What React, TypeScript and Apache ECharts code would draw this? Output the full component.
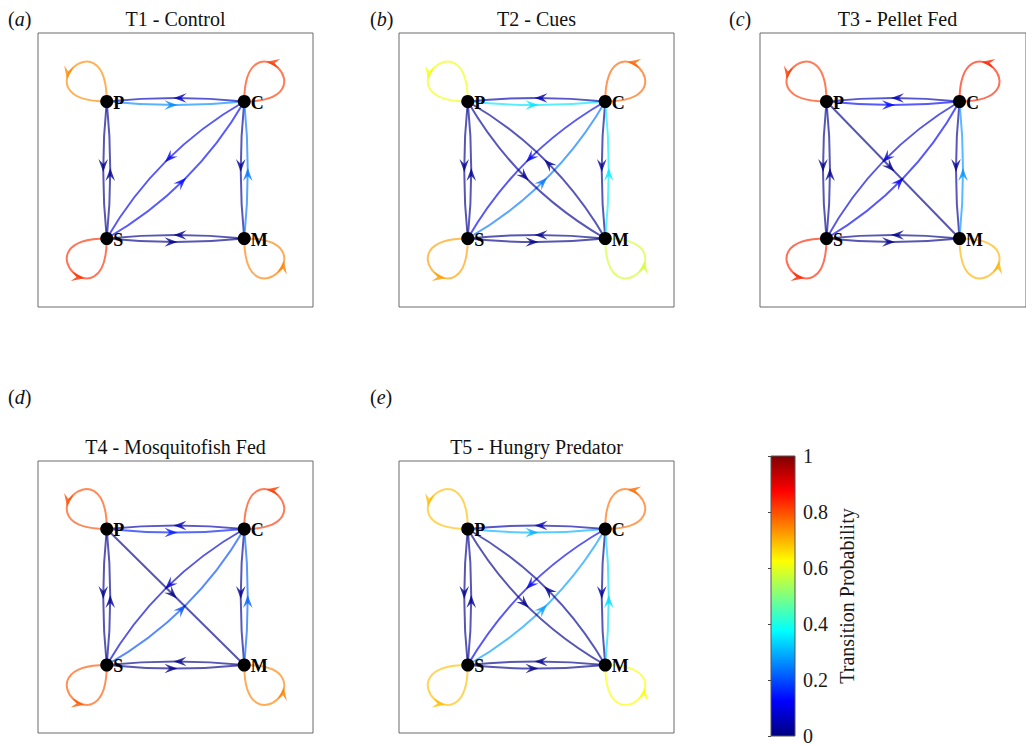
import React, { useEffect, useRef } from 'react';
import * as echarts from 'echarts';

// ---------------- data ----------------
const NODE_NAMES = ['P', 'C', 'S', 'M'];
const NODE_X = [0, 1, 0, 1];
const NODE_Y = [1, 1, 0, 0];

const PANEL_TITLES = ['T1 - Control', 'T2 - Cues', 'T3 - Pellet Fed', 'T4 - Mosquitofish Fed', 'T5 - Hungry Predator'];
const PANEL_TAGS = ['a', 'b', 'c', 'd', 'e'];

// [from, to, transition probability]
const T1_CONTROL: [string, string, number][] = [
  ['P', 'P', 0.74], ['C', 'C', 0.82], ['S', 'S', 0.83], ['M', 'M', 0.75],
  ['P', 'C', 0.26], ['C', 'P', 0.06], ['P', 'S', 0.01], ['S', 'P', 0.02],
  ['C', 'M', 0.02], ['M', 'C', 0.24], ['S', 'M', 0.01], ['M', 'S', 0.01],
  ['C', 'S', 0.11], ['S', 'C', 0.13],
];
const T2_CUES: [string, string, number][] = [
  ['P', 'P', 0.61], ['C', 'C', 0.78], ['S', 'S', 0.72], ['M', 'M', 0.58],
  ['P', 'C', 0.35], ['C', 'P', 0.04], ['P', 'S', 0.01], ['S', 'P', 0.02],
  ['C', 'M', 0.02], ['M', 'C', 0.36], ['S', 'M', 0.01], ['M', 'S', 0.01],
  ['C', 'S', 0.11], ['S', 'C', 0.24], ['P', 'M', 0.02], ['M', 'P', 0.02],
];
const T3_PELLET: [string, string, number][] = [
  ['P', 'P', 0.82], ['C', 'C', 0.84], ['S', 'S', 0.84], ['M', 'M', 0.70],
  ['P', 'C', 0.13], ['C', 'P', 0.05], ['P', 'S', 0.01], ['S', 'P', 0.02],
  ['C', 'M', 0.02], ['M', 'C', 0.27], ['S', 'M', 0.01], ['M', 'S', 0.01],
  ['C', 'S', 0.08], ['S', 'C', 0.12], ['P', 'M', 0.01],
];
const T4_MOSQUITOFISH: [string, string, number][] = [
  ['P', 'P', 0.80], ['C', 'C', 0.82], ['S', 'S', 0.79], ['M', 'M', 0.75],
  ['P', 'C', 0.15], ['C', 'P', 0.05], ['P', 'S', 0.01], ['S', 'P', 0.02],
  ['C', 'M', 0.02], ['M', 'C', 0.22], ['S', 'M', 0.01], ['M', 'S', 0.01],
  ['C', 'S', 0.07], ['S', 'C', 0.20], ['P', 'M', 0.01],
];
const T5_HUNGRY: [string, string, number][] = [
  ['P', 'P', 0.69], ['C', 'C', 0.77], ['S', 'S', 0.69], ['M', 'M', 0.62],
  ['P', 'C', 0.30], ['C', 'P', 0.04], ['P', 'S', 0.01], ['S', 'P', 0.02],
  ['C', 'M', 0.02], ['M', 'C', 0.34], ['S', 'M', 0.01], ['M', 'S', 0.01],
  ['C', 'S', 0.11], ['S', 'C', 0.28], ['P', 'M', 0.01], ['M', 'P', 0.02],
];
const PANEL_EDGES = [T1_CONTROL, T2_CUES, T3_PELLET, T4_MOSQUITOFISH, T5_HUNGRY];

// jet colormap, evenly spaced stops 0..1
const JET = ['#000080', '#0000ff', '#0080ff', '#00ffff', '#80ff80', '#ffff00', '#ff8000', '#ff0000', '#800000'];
const COLORBAR_MIN = 0;
const COLORBAR_MAX = 1;
const COLORBAR_STEP = 0.2;

// ---------------- layout ----------------
const FONT = "'Liberation Serif', 'Times New Roman', Times, serif";
const GRID_POS = [
  [38, 33, 275, 274],
  [399, 33, 275, 274],
  [760, 33, 275, 274],
  [38, 461, 275, 272],
  [399, 461, 275, 272],
];
const TAG_X = [8, 370, 729, 8, 370];
const TAG_Y = [19, 19, 19, 397, 397];
const EDGE_ALPHA = 0.66;
const LINE_W = 2;

function arrowHead(tip: number[], dir: number[], color: any) {
  const len = Math.hypot(dir[0], dir[1]) || 1;
  const ux = dir[0] / len, uy = dir[1] / len;
  const wx = -uy, wy = ux;
  const L = 13, W = 4.8, N = 8;
  return {
    type: 'polygon',
    shape: {
      points: [
        [tip[0], tip[1]],
        [tip[0] - L * ux + W * wx, tip[1] - L * uy + W * wy],
        [tip[0] - N * ux, tip[1] - N * uy],
        [tip[0] - L * ux - W * wx, tip[1] - L * uy - W * wy],
      ],
    },
    style: { fill: color, stroke: null, opacity: 0.8 },
  };
}

function cubicPt(p0: number[], p1: number[], p2: number[], p3: number[], t: number) {
  const u = 1 - t;
  return [0, 1].map(k => u * u * u * p0[k] + 3 * u * u * t * p1[k] + 3 * u * t * t * p2[k] + t * t * t * p3[k]);
}
function cubicD(p0: number[], p1: number[], p2: number[], p3: number[], t: number) {
  const u = 1 - t;
  return [0, 1].map(k => 3 * u * u * (p1[k] - p0[k]) + 6 * u * t * (p2[k] - p1[k]) + 3 * t * t * (p3[k] - p2[k]));
}

function makeRenderer(edges: number[][]) {
  return (params: any, api: any) => {
    const s = api.value(0) as number;
    const t = api.value(1) as number;
    const color = api.visual('color');
    const a = api.coord([NODE_X[s], NODE_Y[s]]);
    const lineStyle = { stroke: color, lineWidth: LINE_W, fill: null, opacity: EDGE_ALPHA };
    if (s === t) {
      const ox = NODE_X[s] === 0 ? -1 : 1;
      const oy = NODE_Y[s] === 1 ? -1 : 1;
      const vertFirst = ox * oy > 0;
      const d1 = vertFirst ? [0, oy] : [ox, 0];
      const d2 = vertFirst ? [ox, 0] : [0, oy];
      const K = 90;
      const c1 = [a[0] + K * d1[0], a[1] + K * d1[1]];
      const c2 = [a[0] + K * d2[0], a[1] + K * d2[1]];
      const tt = 0.64;
      const pt = cubicPt(a, c1, c2, a, tt);
      const dv = cubicD(a, c1, c2, a, tt);
      return {
        type: 'group',
        children: [
          {
            type: 'bezierCurve',
            shape: { x1: a[0], y1: a[1], x2: a[0], y2: a[1], cpx1: c1[0], cpy1: c1[1], cpx2: c2[0], cpy2: c2[1] },
            style: lineStyle,
          },
          arrowHead(pt, dv, color),
        ],
      };
    }
    const b = api.coord([NODE_X[t], NODE_Y[t]]);
    const dx = b[0] - a[0], dy = b[1] - a[1];
    const len = Math.hypot(dx, dy) || 1;
    const ux = dx / len, uy = dy / len;
    const nx = -uy, ny = ux;
    const mutual = edges.some(e => e[0] === t && e[1] === s);
    const diagonal = NODE_X[s] !== NODE_X[t] && NODE_Y[s] !== NODE_Y[t];
    const off = mutual ? (diagonal ? 13 : 3.5) : 0;
    const midX = (a[0] + b[0]) / 2, midY = (a[1] + b[1]) / 2;
    const cx = midX + nx * 2 * off, cy = midY + ny * 2 * off;
    return {
      type: 'group',
      children: [
        {
          type: 'bezierCurve',
          shape: { x1: a[0], y1: a[1], x2: b[0], y2: b[1], cpx1: cx, cpy1: cy },
          style: lineStyle,
        },
        arrowHead([midX + nx * off + ux * 2, midY + ny * off + uy * 2], [ux, uy], color),
      ],
    };
  };
}

export default function App() {
  const ref = useRef<HTMLDivElement>(null);
  useEffect(() => {
    if (!ref.current) return;
    const chart = echarts.init(ref.current, undefined, { renderer: 'svg' });

    const grids: any[] = GRID_POS.map(g => ({
      left: g[0], top: g[1], width: g[2], height: g[3],
      show: true, borderColor: '#6b6b6b', borderWidth: 1, backgroundColor: 'transparent',
    }));
    grids.push({ left: 771, top: 456, width: 24, height: 282, show: false });

    const xAxes: any[] = GRID_POS.map((_, i) => ({ gridIndex: i, type: 'value', min: -0.5, max: 1.5, show: false }));
    xAxes.push({ gridIndex: 5, type: 'value', min: 0, max: 1, show: false });
    const yAxes: any[] = GRID_POS.map((_, i) => ({ gridIndex: i, type: 'value', min: -0.5, max: 1.5, show: false }));
    yAxes.push({
      gridIndex: 5, type: 'value', min: COLORBAR_MIN, max: COLORBAR_MAX, interval: COLORBAR_STEP, position: 'right',
      axisLine: { show: false },
      axisTick: { show: true, inside: true, length: 3, lineStyle: { color: '#444', width: 1 } },
      splitLine: { show: false },
      axisLabel: { fontSize: 20, color: '#1a1a1a', fontFamily: FONT, margin: 8 },
      name: 'Transition Probability', nameLocation: 'middle', nameGap: 42, nameRotate: 90,
      nameTextStyle: { fontSize: 20, color: '#1a1a1a', fontFamily: FONT },
    });

    const series: any[] = [];
    const edgeSeriesIdx: number[] = [];
    PANEL_EDGES.forEach((edges, i) => {
      const data = edges.map(e => [NODE_NAMES.indexOf(e[0]), NODE_NAMES.indexOf(e[1]), e[2]]);
      edgeSeriesIdx.push(series.length);
      series.push({
        type: 'custom', xAxisIndex: i, yAxisIndex: i, coordinateSystem: 'cartesian2d',
        data, renderItem: makeRenderer(data), clip: false, silent: true, z: 2,
      });
      series.push({
        type: 'scatter', xAxisIndex: i, yAxisIndex: i,
        data: NODE_NAMES.map((_, k) => [NODE_X[k], NODE_Y[k]]),
        symbolSize: 13, itemStyle: { color: '#000', opacity: 1 }, silent: true, z: 5,
        label: {
          show: true, position: 'right', distance: 0, offset: [0, 1],
          formatter: (p: any) => NODE_NAMES[p.dataIndex],
          fontWeight: 'bold', fontSize: 18, fontFamily: FONT, color: '#000',
        },
      });
    });
    series.push({
      type: 'custom', xAxisIndex: 5, yAxisIndex: 5, coordinateSystem: 'cartesian2d', silent: true, z: 2,
      data: [[COLORBAR_MIN, COLORBAR_MIN]],
      renderItem: (params: any, api: any) => {
        const p0 = api.coord([0, COLORBAR_MIN]);
        const p1 = api.coord([1, COLORBAR_MAX]);
        return {
          type: 'rect',
          shape: { x: p0[0], y: p1[1], width: p1[0] - p0[0], height: p0[1] - p1[1] },
          style: {
            fill: new echarts.graphic.LinearGradient(0, 1, 0, 0, JET.map((c, k) => ({ offset: k / (JET.length - 1), color: c }))),
            stroke: '#555', lineWidth: 1,
          },
        };
      },
    });

    const graphic: any[] = [];
    PANEL_TITLES.forEach((title, i) => {
      const g = GRID_POS[i];
      graphic.push({
        type: 'text', x: g[0] + g[2] / 2, y: g[1] - 14, silent: true,
        style: { text: title, fill: '#111', fontSize: 20, fontFamily: FONT, align: 'center', verticalAlign: 'middle' },
      });
      graphic.push({
        type: 'text', x: TAG_X[i], y: TAG_Y[i], silent: true,
        style: {
          text: `{n|(}{i|${PANEL_TAGS[i]}}{n|)}`,
          fill: '#111', align: 'left', verticalAlign: 'middle',
          rich: {
            n: { fontSize: 20, fontFamily: FONT, fill: '#111' },
            i: { fontSize: 20, fontFamily: FONT, fontStyle: 'italic', fill: '#111' },
          },
        },
      });
    });

    chart.setOption({
      animation: false,
      backgroundColor: '#ffffff',
      grid: grids,
      xAxis: xAxes,
      yAxis: yAxes,
      visualMap: {
        type: 'continuous', show: false, min: COLORBAR_MIN, max: COLORBAR_MAX, dimension: 2,
        seriesIndex: edgeSeriesIdx, inRange: { color: JET },
      },
      series,
      graphic,
    });
    return () => chart.dispose();
  }, []);
  return <div ref={ref} style={{ position: 'absolute', left: 0, top: 0, width: 1026, height: 746 }} />;
}
